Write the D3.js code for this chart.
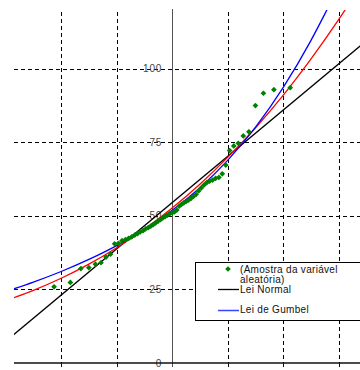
<!DOCTYPE html>
<html>
<head>
<meta charset="utf-8">
<script src="https://cdn.jsdelivr.net/npm/d3@7"></script>
<style>
body { margin: 0; background: #fff; }
svg { display: block; font-family: "Liberation Sans", Arial, sans-serif; }
</style>
</head>
<body>
<div id="chart"></div>
<script>
// normal reduced variate (x) of each sorted sample value
var sampleZ = [-2.128, -1.834, -1.645, -1.501, -1.383, -1.282, -1.192, -1.111, -1.036, -0.967,
    -0.903, -0.842, -0.784, -0.728, -0.674, -0.623, -0.573, -0.524, -0.477, -0.431,
    -0.385, -0.341, -0.297, -0.253, -0.210, -0.168, -0.126, -0.084, -0.042, 0,
    0.042, 0.084, 0.126, 0.168, 0.210, 0.253, 0.297, 0.341, 0.385, 0.431,
    0.477, 0.524, 0.573, 0.623, 0.674, 0.728, 0.784, 0.842, 0.903, 0.967,
    1.036, 1.111, 1.192, 1.282, 1.383, 1.501, 1.645, 1.834, 2.128];
var sampleVals = [25.9, 27.4, 32.1, 32.4, 33.6, 34.1, 36.0, 37.0, 40.5, 40.7,
    41.6, 41.9, 42.4, 42.9, 43.5, 44.0, 44.6, 45.0, 45.6, 46.0,
    46.5, 47.0, 47.6, 48.2, 48.7, 49.3, 49.8, 50.3, 50.7, 51.0,
    51.4, 52.0, 53.3, 53.9, 54.4, 54.9, 55.4, 56.0, 56.6, 57.3,
    58.5, 59.5, 60.5, 61.3, 61.8, 62.2, 62.8, 63.1, 64.3, 67.3,
    72.2, 73.8, 74.7, 77.2, 78.6, 87.5, 91.7, 92.9, 93.6];

// Lei Normal (straight line)
var normalZ = [-3, 3.5];
var normalVals = [7.4, 109.5];

// Lei de Gumbel
var gumbelZ = [-3, -2.5, -2, -1.5, -1, -0.5, 0, 0.5, 1, 1.5, 2, 2.5, 2.75, 3];
var gumbelVals = [24.3, 27.5, 31.1, 35.2, 39.9, 45.4, 51.9, 59.6, 68.9, 80.1, 93.6, 109.6, 118.6, 128.3];

// red curve (not in visible legend)
var redZ = [-3, -2.5, -2, -1.5, -1, -0.5, 0, 0.5, 1, 1.5, 2, 2.5, 3, 3.25];
var redVals = [21.2, 24.7, 28.8, 33.6, 39.2, 45.5, 52.7, 60.8, 69.9, 79.9, 91.0, 103.3, 116.7, 123.9];

var yTicks = [0, 25, 50, 75, 100];
var xGrid = [-2, -1, 1, 2, 3];

var legendLabels = ["(Amostra da variável", "aleatória)", "Lei Normal", "Lei de Gumbel"];

var width = 360, height = 370;
var plotLeft = 14, plotRight = 383, plotTop = 10, plotBottom = 363;

var x = d3.scaleLinear().domain([-2.85, 3.8]).range([plotLeft, plotRight]);
var y = d3.scaleLinear().domain([0, 120]).range([plotBottom, plotTop]);

var svg = d3.select("#chart").append("svg")
    .attr("width", width).attr("height", height);

svg.append("rect").attr("width", width).attr("height", height).attr("fill", "#fff");

svg.append("defs").append("clipPath").attr("id", "plot")
    .append("rect").attr("x", plotLeft).attr("y", plotTop)
    .attr("width", plotRight - plotLeft).attr("height", plotBottom - plotTop);

// dashed grid
svg.selectAll("line.hgrid").data(yTicks.filter(function(d) { return d > 0; }))
    .enter().append("line").attr("class", "hgrid")
    .attr("x1", plotLeft).attr("x2", plotRight)
    .attr("y1", function(d) { return Math.round(y(d)) + 0.5; })
    .attr("y2", function(d) { return Math.round(y(d)) + 0.5; })
    .attr("stroke", "#000").attr("stroke-dasharray", "4,3");

svg.selectAll("line.vgrid").data(xGrid)
    .enter().append("line").attr("class", "vgrid")
    .attr("x1", function(d) { return Math.round(x(d)) + 0.5; })
    .attr("x2", function(d) { return Math.round(x(d)) + 0.5; })
    .attr("y1", plotTop + 2).attr("y2", plotBottom)
    .attr("stroke", "#000").attr("stroke-dasharray", "4,3");

// y tick labels
svg.selectAll("text.ylab").data(yTicks)
    .enter().append("text").attr("class", "ylab")
    .attr("x", x(0) - 10)
    .attr("y", function(d) { return y(d) + 3.5; })
    .attr("text-anchor", "end")
    .attr("font-size", 10)
    .attr("letter-spacing", 0.8)
    .attr("fill", "#444")
    .text(function(d) { return d; });

// axes
svg.append("line")
    .attr("x1", Math.round(x(0)) + 0.5).attr("x2", Math.round(x(0)) + 0.5)
    .attr("y1", plotTop - 1).attr("y2", plotBottom + 4)
    .attr("stroke", "#555").attr("stroke-width", 1);

svg.append("line")
    .attr("x1", plotLeft).attr("x2", plotRight)
    .attr("y1", plotBottom).attr("y2", plotBottom)
    .attr("stroke", "#111").attr("stroke-width", 1.5);

svg.selectAll("line.xtick").data(xGrid)
    .enter().append("line").attr("class", "xtick")
    .attr("x1", function(d) { return Math.round(x(d)) + 0.5; })
    .attr("x2", function(d) { return Math.round(x(d)) + 0.5; })
    .attr("y1", plotBottom).attr("y2", plotBottom + 4)
    .attr("stroke", "#111");

// curves
function drawCurve(zs, vals, color) {
    var pts = zs.map(function(z, i) { return [z, vals[i]]; });
    var line = d3.line()
        .x(function(d) { return x(d[0]); })
        .y(function(d) { return y(d[1]); })
        .curve(d3.curveMonotoneX);
    svg.append("path").datum(pts)
        .attr("clip-path", "url(#plot)")
        .attr("d", line)
        .attr("fill", "none")
        .attr("stroke", color)
        .attr("stroke-width", 1.3);
}

drawCurve(normalZ, normalVals, "#000");
drawCurve(redZ, redVals, "#ff0000");
drawCurve(gumbelZ, gumbelVals, "#0000ff");

// sample points
var diamond = d3.symbol().type(d3.symbolDiamond2).size(21);
svg.selectAll("path.pt").data(sampleZ)
    .enter().append("path").attr("class", "pt")
    .attr("transform", function(d, i) { return "translate(" + x(d) + "," + y(sampleVals[i]) + ")"; })
    .attr("d", diamond)
    .attr("fill", "#008000");

// legend
var lg = svg.append("g").attr("transform", "translate(195,262)");
lg.append("rect").attr("x", 0.5).attr("y", 0.5).attr("width", 220).attr("height", 58)
    .attr("fill", "#fff").attr("stroke", "#000");

lg.append("path").attr("transform", "translate(33,7)").attr("d", diamond).attr("fill", "#008000");
lg.append("line").attr("x1", 23).attr("x2", 44).attr("y1", 27.5).attr("y2", 27.5)
    .attr("stroke", "#000").attr("stroke-width", 1.3);
lg.append("line").attr("x1", 23).attr("x2", 44).attr("y1", 48.5).attr("y2", 48.5)
    .attr("stroke", "#3344ff").attr("stroke-width", 1.5);

var labelY = [10.5, 20.5, 30.5, 51];
lg.selectAll("text").data(legendLabels)
    .enter().append("text")
    .attr("x", 45)
    .attr("y", function(d, i) { return labelY[i]; })
    .attr("font-size", 10)
    .attr("letter-spacing", 0.3)
    .attr("fill", "#111")
    .text(function(d) { return d; });
</script>
</body>
</html>
